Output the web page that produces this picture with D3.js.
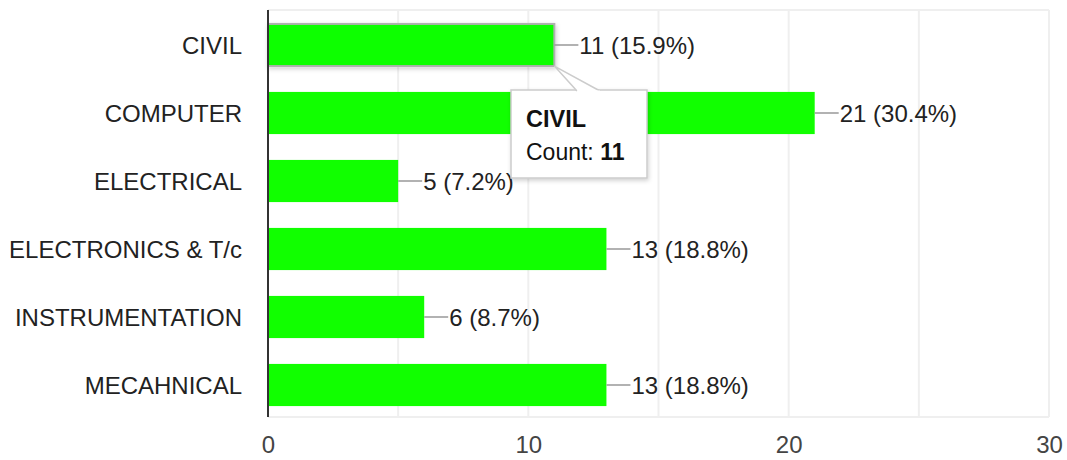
<!DOCTYPE html>
<html><head><meta charset="utf-8">
<script src="https://cdn.jsdelivr.net/npm/d3@7"></script>
<style>
html,body{margin:0;padding:0;background:#fff;}
svg{display:block;font-family:"Liberation Sans",Arial,sans-serif;}
</style></head>
<body>
<svg id="chart" width="1067" height="460"></svg>
<script>
const categories = ["CIVIL","COMPUTER","ELECTRICAL","ELECTRONICS & T/c","INSTRUMENTATION","MECAHNICAL"];
const counts = [11,21,5,13,6,13];
const percentLabels = ["15.9%","30.4%","7.2%","18.8%","8.7%","18.8%"];
const xTicks = [0,10,20,30];
const gridTicks = [0,5,10,15,20,25,30];
const tooltipCategory = "CIVIL";

const svg = d3.select("#chart");
const m = {left:268, right:1049, top:10, bottom:417};
const fs = 24;
const x = d3.scaleLinear().domain([0,30]).range([m.left, m.right]);
const y = d3.scaleBand().domain(categories).range([11, 419]).paddingInner(0.38).paddingOuter(0.19);

const defs = svg.append("defs");
const f = defs.append("filter").attr("id","sh").attr("x","-20%").attr("y","-20%").attr("width","140%").attr("height","150%");
f.append("feDropShadow").attr("dx",1).attr("dy",2).attr("stdDeviation",2).attr("flood-color","#000").attr("flood-opacity",0.18);

// grid
svg.append("g").selectAll("line").data(gridTicks).join("line")
  .attr("x1",d=>x(d)).attr("x2",d=>x(d)).attr("y1",m.top).attr("y2",m.bottom)
  .attr("stroke","#efefef").attr("stroke-width",2);
svg.append("line").attr("x1",m.left).attr("x2",m.right).attr("y1",m.top).attr("y2",m.top).attr("stroke","#efefef").attr("stroke-width",2);
svg.append("line").attr("x1",m.left).attr("x2",m.right).attr("y1",m.bottom).attr("y2",m.bottom).attr("stroke","#efefef").attr("stroke-width",2);

const data = categories.map((c,i)=>({c, v:counts[i], p:percentLabels[i]}));

// bars
svg.append("g").selectAll("rect").data(data).join("rect")
  .attr("x",x(0)).attr("y",d=>y(d.c)).attr("width",d=>x(d.v)-x(0)).attr("height",y.bandwidth())
  .attr("fill","#11ff00")
  .attr("stroke",d=>d.c===tooltipCategory?"#b0b0b0":"none")
  .attr("stroke-width",2)
  .attr("filter",d=>d.c===tooltipCategory?"url(#sh)":null);

// leader lines and labels
const lab = svg.append("g").selectAll("g").data(data).join("g");
lab.append("line").attr("x1",d=>x(d.v)).attr("x2",d=>x(d.v)+24)
  .attr("y1",d=>y(d.c)+y.bandwidth()/2).attr("y2",d=>y(d.c)+y.bandwidth()/2)
  .attr("stroke","#999").attr("stroke-width",1.5);
lab.append("text").attr("x",d=>x(d.v)+25).attr("y",d=>y(d.c)+y.bandwidth()/2)
  .attr("dy","0.36em").attr("font-size",fs).attr("fill","#222")
  .text(d=>`${d.v} (${d.p})`);

// left axis
svg.append("line").attr("x1",m.left).attr("x2",m.left).attr("y1",m.top).attr("y2",m.bottom).attr("stroke","#333").attr("stroke-width",2);
svg.append("g").selectAll("text").data(categories).join("text")
  .attr("x",242).attr("y",d=>y(d)+y.bandwidth()/2).attr("dy","0.36em")
  .attr("text-anchor","end").attr("font-size",fs).attr("fill","#222").text(d=>d);

// bottom tick labels
const xAxis = d3.axisBottom(x).tickValues(xTicks).tickSize(0).tickPadding(0);
const gx = svg.append("g").attr("transform",`translate(0,${m.bottom})`).call(xAxis);
gx.select(".domain").remove();
gx.selectAll("text").attr("font-size",fs).attr("fill","#444").attr("font-family","Liberation Sans, Arial, sans-serif")
  .attr("dy",null).attr("y",36);

// tooltip
const d0 = data.find(d=>d.c===tooltipCategory);
const ax = x(d0.v), ay = y(d0.c)+y.bandwidth();
const bx = 511, by = 90, bw = 136, bh = 88;
const tg = svg.append("g");
tg.append("rect").attr("x",bx).attr("y",by).attr("width",bw).attr("height",bh)
  .attr("fill","#fff").attr("stroke","#ccc").attr("stroke-width",1.5).attr("filter","url(#sh)");
tg.append("path").attr("d",`M${bx+66},${by+1} L${ax},${ay} L${bx+89},${by+1}`)
  .attr("fill","#fff").attr("stroke","#ccc").attr("stroke-width",1.5);
tg.append("rect").attr("x",bx+66).attr("y",by+0.5).attr("width",23).attr("height",2).attr("fill","#fff");
tg.append("text").attr("x",bx+15).attr("y",by+37).attr("font-size",23.5).attr("font-weight","bold").attr("fill","#111").text(d0.c);
const t2 = tg.append("text").attr("x",bx+15).attr("y",by+70).attr("font-size",23).attr("fill","#111");
t2.append("tspan").text("Count: ");
t2.append("tspan").attr("font-weight","bold").text(d0.v);
</script>
</body></html>
